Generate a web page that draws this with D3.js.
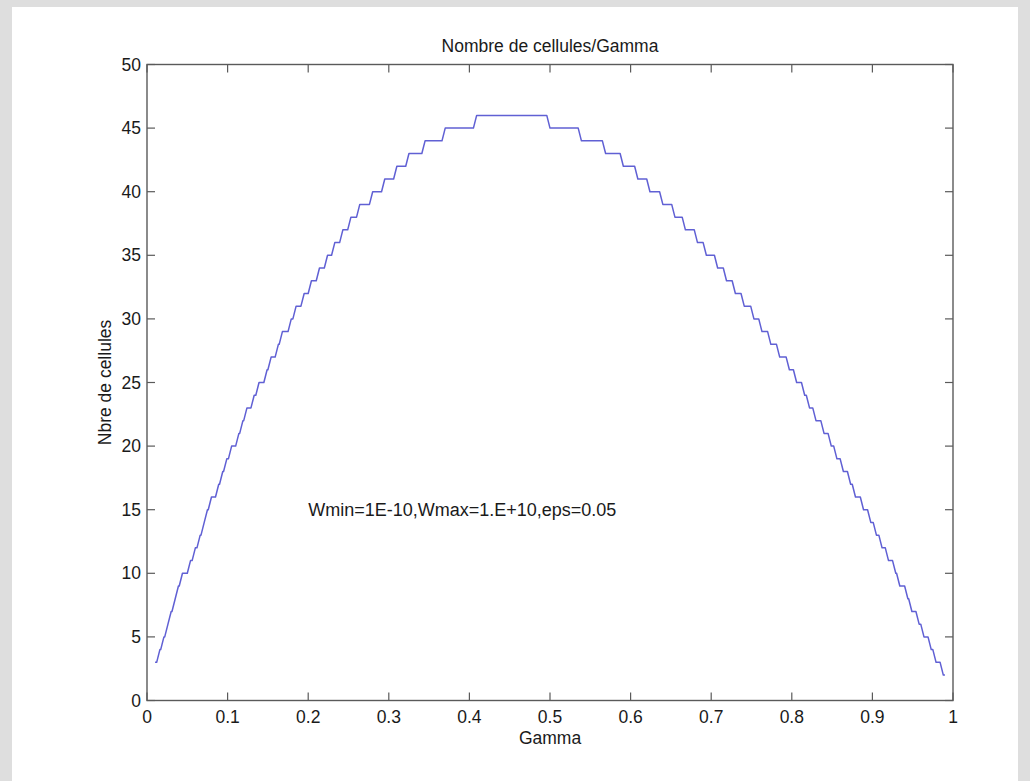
<!DOCTYPE html>
<html>
<head>
<meta charset="utf-8">
<script src="https://cdn.jsdelivr.net/npm/d3@7"></script>
<style>
  body { margin: 0; background: #fff; }
  text { font-family: "Liberation Sans", Arial, sans-serif; fill: #1a1a1a; }
</style>
</head>
<body>
<div id="chart"></div>
<script>
// tick values
const xTicks = [0, 0.1, 0.2, 0.3, 0.4, 0.5, 0.6, 0.7, 0.8, 0.9, 1]
const yTicks = [0, 5, 10, 15, 20, 25, 30, 35, 40, 45, 50]

// staircase: gamma at which each count level starts
const stepGamma = [
  0.010, 0.014, 0.019, 0.024, 0.028, 0.033, 0.037, 0.042, 0.052, 0.058,
  0.064, 0.069, 0.073, 0.078, 0.087, 0.092, 0.097, 0.103, 0.112, 0.117,
  0.122, 0.131, 0.137, 0.147, 0.152, 0.161, 0.166, 0.177, 0.183, 0.193,
  0.202, 0.212, 0.222, 0.231, 0.241, 0.251, 0.262, 0.278, 0.293, 0.308,
  0.323, 0.343, 0.368, 0.407,
  0.498, 0.537, 0.567, 0.589, 0.607, 0.622, 0.638, 0.653, 0.666, 0.681,
  0.692, 0.706, 0.717, 0.728, 0.739, 0.751, 0.761, 0.772, 0.783, 0.795,
  0.804, 0.814, 0.820, 0.828, 0.838, 0.847, 0.854, 0.862, 0.871, 0.877,
  0.887, 0.896, 0.903, 0.910, 0.918, 0.927, 0.932, 0.942, 0.947, 0.956,
  0.962, 0.971, 0.977, 0.986
]
const stepCount = [
  3, 4, 5, 6, 7, 8, 9, 10, 11, 12,
  13, 14, 15, 16, 17, 18, 19, 20, 21, 22,
  23, 24, 25, 26, 27, 28, 29, 30, 31, 32,
  33, 34, 35, 36, 37, 38, 39, 40, 41, 42,
  43, 44, 45, 46,
  45, 44, 43, 42, 41, 40, 39, 38, 37, 36,
  35, 34, 33, 32, 31, 30, 29, 28, 27, 26,
  25, 24, 23, 22, 21, 20, 19, 18, 17, 16,
  15, 14, 13, 12, 11, 10, 9, 8, 7, 6,
  5, 4, 3, 2
]
const gammaEnd = 0.99

const width = 1030
const height = 781
const plot = { left: 147, right: 953, top: 64.5, bottom: 700.5 }

const svg = d3.select('#chart')
  .append('svg')
  .attr('width', width)
  .attr('height', height)

// gray frame round a white page
svg.append('rect').attr('width', width).attr('height', height).attr('fill', '#dedede')
svg.append('rect')
  .attr('x', 12).attr('y', 7)
  .attr('width', 1006).attr('height', height - 7)
  .attr('fill', '#fff')

const x = d3.scaleLinear().domain([0, 1]).range([plot.left, plot.right])
const y = d3.scaleLinear().domain([0, 50]).range([plot.bottom, plot.top])

const axisColor = '#5a5a5a'
const tickLen = 8

// box
svg.append('rect')
  .attr('x', plot.left).attr('y', plot.top)
  .attr('width', plot.right - plot.left).attr('height', plot.bottom - plot.top)
  .attr('fill', 'none').attr('stroke', axisColor).attr('stroke-width', 1.4)

// inward ticks on all four sides
const g = svg.append('g').attr('stroke', axisColor).attr('stroke-width', 1.2)
xTicks.forEach(t => {
  g.append('line').attr('x1', x(t)).attr('x2', x(t)).attr('y1', plot.bottom).attr('y2', plot.bottom - tickLen)
  g.append('line').attr('x1', x(t)).attr('x2', x(t)).attr('y1', plot.top).attr('y2', plot.top + tickLen)
})
yTicks.forEach(t => {
  g.append('line').attr('y1', y(t)).attr('y2', y(t)).attr('x1', plot.left).attr('x2', plot.left + tickLen)
  g.append('line').attr('y1', y(t)).attr('y2', y(t)).attr('x1', plot.right).attr('x2', plot.right - tickLen)
})

const fs = 17.5

svg.append('g').selectAll('text')
  .data(xTicks)
  .join('text')
  .attr('x', d => x(d))
  .attr('y', plot.bottom + 16)
  .attr('dy', '0.35em')
  .attr('text-anchor', 'middle')
  .attr('font-size', fs)
  .text(d => d3.format('~g')(d))

svg.append('g').selectAll('text')
  .data(yTicks)
  .join('text')
  .attr('x', plot.left - 6)
  .attr('y', d => y(d))
  .attr('dy', '0.35em')
  .attr('text-anchor', 'end')
  .attr('font-size', fs)
  .text(d => d)

svg.append('text')
  .attr('x', (plot.left + plot.right) / 2).attr('y', 46).attr('dy', '0.35em')
  .attr('text-anchor', 'middle').attr('font-size', fs)
  .text('Nombre de cellules/Gamma')

svg.append('text')
  .attr('x', (plot.left + plot.right) / 2).attr('y', 738).attr('dy', '0.35em')
  .attr('text-anchor', 'middle').attr('font-size', fs)
  .text('Gamma')

svg.append('text')
  .attr('transform', `translate(105,${(plot.top + plot.bottom) / 2}) rotate(-90)`)
  .attr('dy', '0.35em')
  .attr('text-anchor', 'middle').attr('font-size', fs)
  .text('Nbre de cellules')

svg.append('text')
  .attr('x', x(0.2)).attr('y', y(15)).attr('dy', '0.35em')
  .attr('font-size', 18)
  .text('Wmin=1E-10,Wmax=1.E+10,eps=0.05')

// the staircase; risers are drawn slightly slanted like the sampled original
const riser = 0.004
const pts = []
stepGamma.forEach((gm, i) => {
  const last = i === stepGamma.length - 1
  const a = i === 0 ? gm : gm + riser / 2
  const b = last ? gammaEnd : stepGamma[i + 1] - riser / 2
  pts.push([a, stepCount[i]], [b, stepCount[i]])
})

const line = d3.line()
  .x(d => x(d[0]))
  .y(d => y(d[1]))

svg.append('path')
  .datum(pts)
  .attr('d', line)
  .attr('fill', 'none')
  .attr('stroke', '#6060d4')
  .attr('stroke-width', 1.5)
  .attr('stroke-linejoin', 'round')
</script>
</body>
</html>
